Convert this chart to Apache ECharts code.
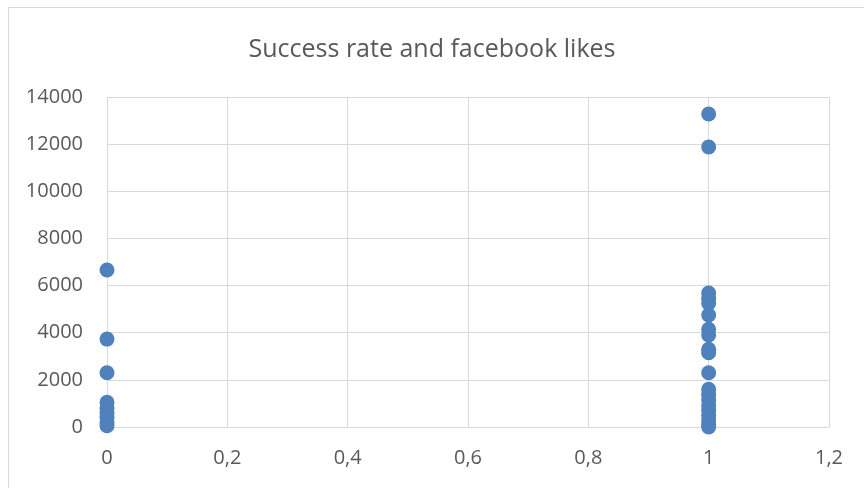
<!DOCTYPE html>
<html>
<head>
<meta charset="utf-8">
<script src="https://cdn.jsdelivr.net/npm/echarts@6/dist/echarts.min.js"></script>
<style>
  html, body { margin: 0; padding: 0; background: #fff; }
  #main { width: 864px; height: 488px; }
</style>
</head>
<body>
<div id="main"></div>
<script>
// success rate (0 or 1) and facebook likes
var failLikes = [6660, 3730, 2300, 1050, 800, 600, 400, 200, 50];
var successLikes = [13280, 11880, 5680, 5450, 5250, 4750, 4150, 3900, 3300, 3150, 2300, 1600, 1380, 1150, 900, 700, 500, 300, 100, 0];
var xTicks = [0, 0.2, 0.4, 0.6, 0.8, 1, 1.2];

var points = [];
failLikes.forEach(function (v) { points.push([0, v]); });
successLikes.forEach(function (v) { points.push([1, v]); });

var chart = echarts.init(document.getElementById('main'));
chart.setOption({
    animation: false,
    title: {
        text: 'Success rate and facebook likes',
        left: 'center',
        top: 32,
        textStyle: { fontFamily: 'Open Sans', fontWeight: 'normal', fontSize: 25, color: '#595959' }
    },
    graphic: [{
        type: 'rect',
        shape: { x: 8.5, y: 7.5, width: 860, height: 485 },
        style: { fill: 'none', stroke: '#d9d9d9', lineWidth: 1 }
    }],
    grid: { left: 107, right: 35, top: 97, bottom: 61 },
    xAxis: {
        type: 'value',
        min: 0, max: 1.2, interval: 0.2,
        axisLine: { show: true, lineStyle: { color: '#d9d9d9' } },
        axisTick: { show: false },
        splitLine: { show: true, lineStyle: { color: '#d9d9d9' } },
        axisLabel: {
            fontFamily: 'Open Sans', fontSize: 20, color: '#595959', margin: 21,
            formatter: function (v) { return String(+v.toFixed(1)).replace('.', ','); }
        }
    },
    yAxis: {
        type: 'value',
        min: 0, max: 14000, interval: 2000,
        axisLine: { show: false },
        axisTick: { show: false },
        splitLine: { show: true, lineStyle: { color: '#d9d9d9' } },
        axisLabel: {
            fontFamily: 'Open Sans', fontSize: 20, color: '#595959', margin: 24,
            formatter: function (v) { return String(v); }
        }
    },
    series: [{
        type: 'scatter',
        data: points,
        symbolSize: 15,
        itemStyle: { color: '#4f81bd', opacity: 1 }
    }]
});
</script>
</body>
</html>
